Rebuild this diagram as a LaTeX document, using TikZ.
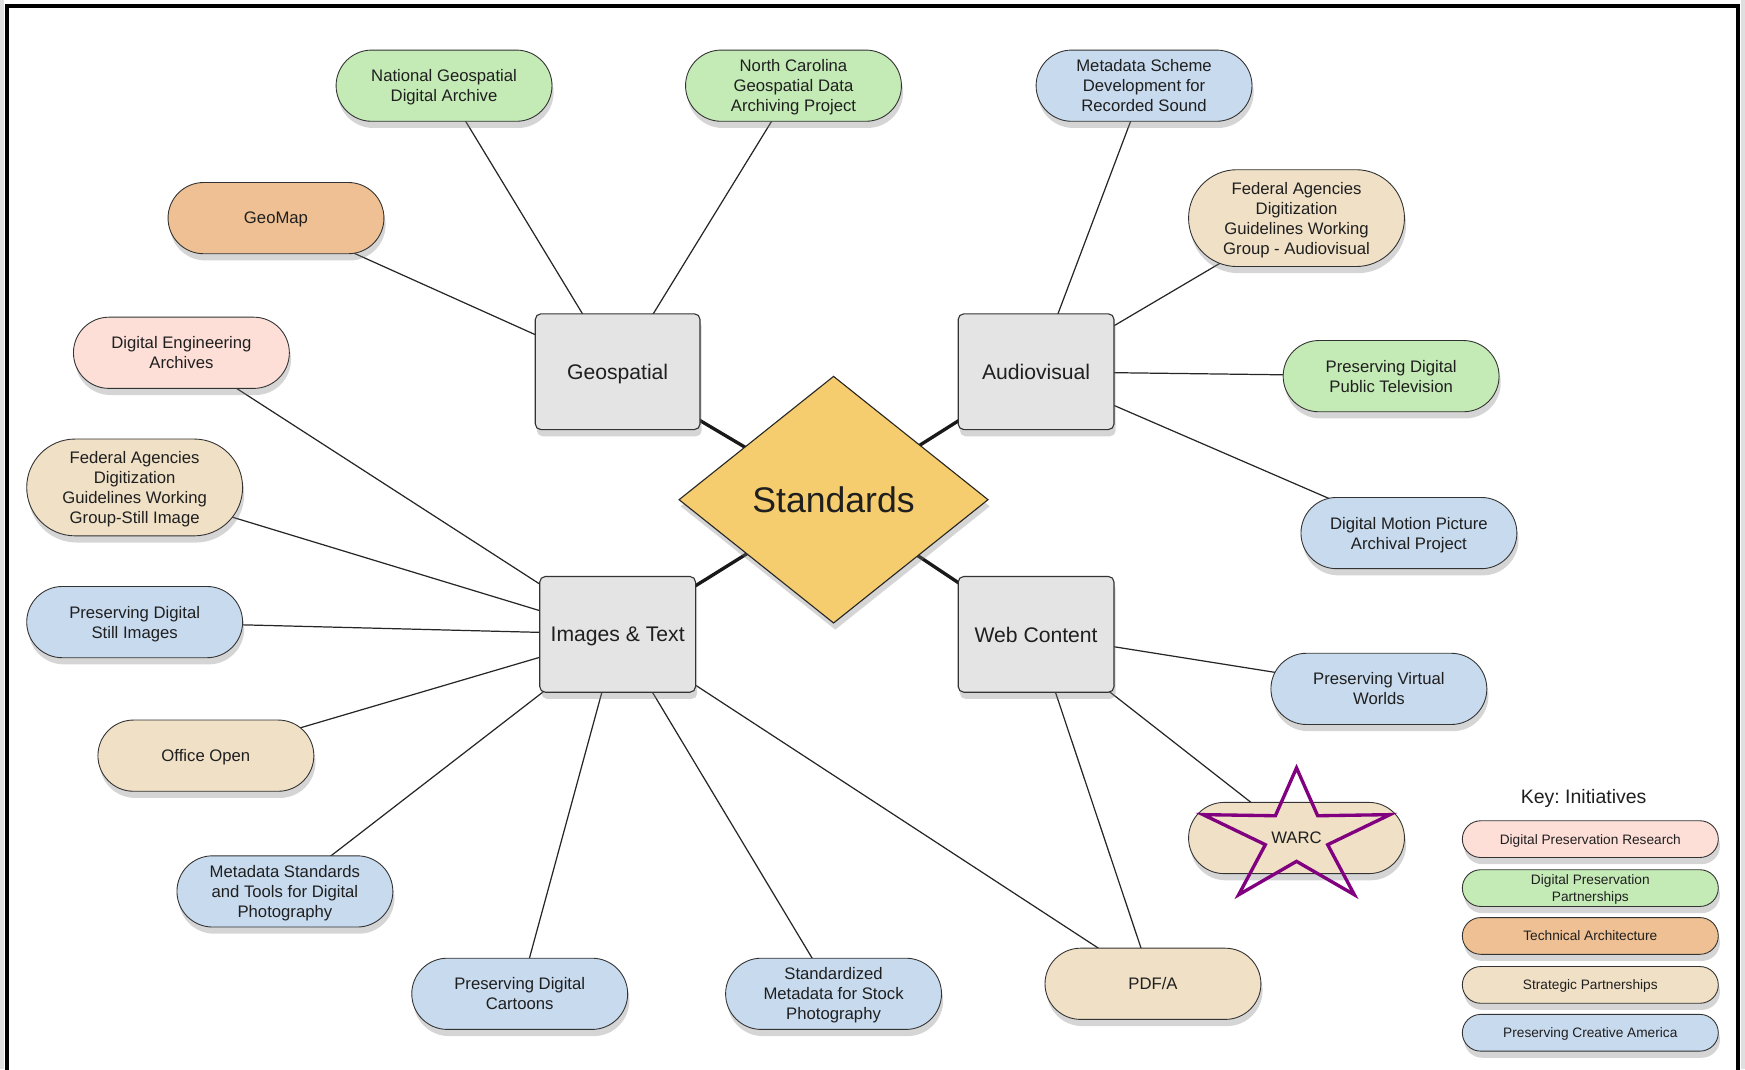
\documentclass[tikz,border=0pt]{standalone}
\usepackage{fontspec}
\setmainfont{Liberation Sans}
\usetikzlibrary{shapes.geometric,shapes.misc,shadows,backgrounds}
\frenchspacing

\definecolor{researchpink}{RGB}{253,223,216}
\definecolor{partnergreen}{RGB}{196,234,182}
\definecolor{techorange}{RGB}{238,192,147}
\definecolor{strategictan}{RGB}{239,224,198}
\definecolor{creativeblue}{RGB}{200,218,238}
\definecolor{areagray}{RGB}{228,228,228}
\definecolor{hubyellow}{RGB}{246,205,110}
\definecolor{starpurple}{RGB}{128,0,128}

\begin{document}
\begin{tikzpicture}[
            x = 1pt, y = -1pt,
            every node/.style={text depth=0pt, align=center, text=black!88,
                font=\fontsize{15}{18}\selectfont},
            shade/.style={drop shadow={shadow xshift=1.5pt, shadow yshift=-6pt, opacity=.33}},
            initiative/.style={rounded rectangle, draw=black!80, line width=.8pt,
                minimum width=196pt, minimum height=64pt, inner sep=1pt, shade},
            tall/.style={minimum height=87pt},
            area/.style={rectangle, rounded corners=5pt, draw=black!80, line width=1pt,
                fill=areagray, minimum width=140pt, minimum height=104pt,
                font=\fontsize{19}{22}\selectfont, shade},
            hub/.style={diamond, draw=black!85, line width=1pt, fill=hubyellow,
                minimum width=278pt, minimum height=222pt, inner sep=0pt,
                font=\fontsize{32}{36}\selectfont, shade},
            keyitem/.style={rounded rectangle, draw=black!80, line width=.8pt,
                minimum width=232pt, minimum height=33pt, inner sep=1pt,
                font=\fontsize{12.3}{15}\selectfont, shade},
            link/.style={line width = 1.1pt, black!85},
            hubline/.style={line width = 3pt, black!90},
            ]

        \useasboundingbox (0,0) rectangle (1568,960.6);
        \fill[gray!25] (0,0) rectangle (4,960.6);
        \fill[gray!25] (1564,0) rectangle (1568,960.6);
        \draw[line width=3.4pt] (6,1000) -- (6,5.4) -- (1561.5,5.4) -- (1561.5,1000);

        % centre and the four areas
        \node[hub] (std) at (749,449) {Standards};
        \node[area, minimum width=148pt] (geo) at (555,334) {Geospatial};
        \node[area] (av) at (931,334) {Audiovisual};
        \node[area] (imgtxt) at (555,570) {Images \& Text};
        \node[area] (web) at (931,570) {Web Content};

        % initiatives
        \node[initiative, fill=partnergreen] (ngda) at (399,77) {National Geospatial\\Digital Archive};
        \node[initiative, fill=partnergreen] (ncgdap) at (713,77) {North Carolina\\Geospatial Data\\Archiving Project};
        \node[initiative, fill=creativeblue] (mdsound) at (1028,77) {Metadata Scheme\\Development for\\Recorded Sound};
        \node[initiative, fill=techorange] (geomap) at (248,196) {GeoMap};
        \node[initiative, tall, fill=strategictan] (fadgiav) at (1165,196) {Federal Agencies\\Digitization\\Guidelines Working\\Group - Audiovisual};
        \node[initiative, fill=researchpink] (dea) at (163,317) {Digital Engineering\\Archives};
        \node[initiative, fill=partnergreen] (pdptv) at (1250,338) {Preserving Digital\\Public Television};
        \node[initiative, tall, fill=strategictan] (fadgisi) at (121,438) {Federal Agencies\\Digitization\\Guidelines Working\\Group-Still Image};
        \node[initiative, fill=creativeblue] (dmpap) at (1266,479) {Digital Motion Picture\\Archival Project};
        \node[initiative, fill=creativeblue] (pdsi) at (121,559) {Preserving Digital\\Still Images};
        \node[initiative, fill=creativeblue] (pvw) at (1239,619) {Preserving Virtual\\Worlds};
        \node[initiative, fill=strategictan] (office) at (185,679) {Office Open};
        \node[initiative, fill=strategictan] (warc) at (1165,753) {WARC};
        \node[initiative, fill=creativeblue] (mstdp) at (256,801) {Metadata Standards\\and Tools for Digital\\Photography};
        \node[initiative, fill=creativeblue] (pdc) at (467,893) {Preserving Digital\\Cartoons};
        \node[initiative, fill=creativeblue] (smsp) at (749,893) {Standardized\\Metadata for Stock\\Photography};
        \node[initiative, fill=strategictan] (pdfa) at (1036,884) {PDF/A};

        % star on WARC
        \draw[starpurple, line width=3pt, line join=miter, shift={(warc.center)}]
            (0,-63) -- (19,-20) -- (84,-21) -- (28,6) -- (52,51) -- (0,21)
            -- (-52,51) -- (-28,6) -- (-84,-21) -- (-19,-20) -- cycle;

        % key
        \node[font=\fontsize{17.5}{20}\selectfont] (key) at (1423,716) {Key: Initiatives};
        \node[keyitem, fill=researchpink] (k1) at (1429,754) {Digital Preservation Research};
        \node[keyitem, fill=partnergreen] (k2) at (1429,798) {Digital Preservation\\Partnerships};
        \node[keyitem, fill=techorange] (k3) at (1429,841) {Technical Architecture};
        \node[keyitem, fill=strategictan] (k4) at (1429,885) {Strategic Partnerships};
        \node[keyitem, fill=creativeblue] (k5) at (1429,928) {Preserving Creative America};

        \begin{pgfonlayer}{background}
            \foreach \area in {geo,av,imgtxt,web}
                \draw[hubline] (std.center) -- (\area.center);
            \foreach \leaf in {geomap,ngda,ncgdap}
                \draw[link] (geo.center) -- (\leaf.center);
            \foreach \leaf in {mdsound,fadgiav,pdptv,dmpap}
                \draw[link] (av.center) -- (\leaf.center);
            \foreach \leaf in {dea,fadgisi,pdsi,office,mstdp,pdc,smsp,pdfa}
                \draw[link] (imgtxt.center) -- (\leaf.center);
            \foreach \leaf in {pvw,warc,pdfa}
                \draw[link] (web.center) -- (\leaf.center);
        \end{pgfonlayer}
    \end{tikzpicture}
\end{document}
